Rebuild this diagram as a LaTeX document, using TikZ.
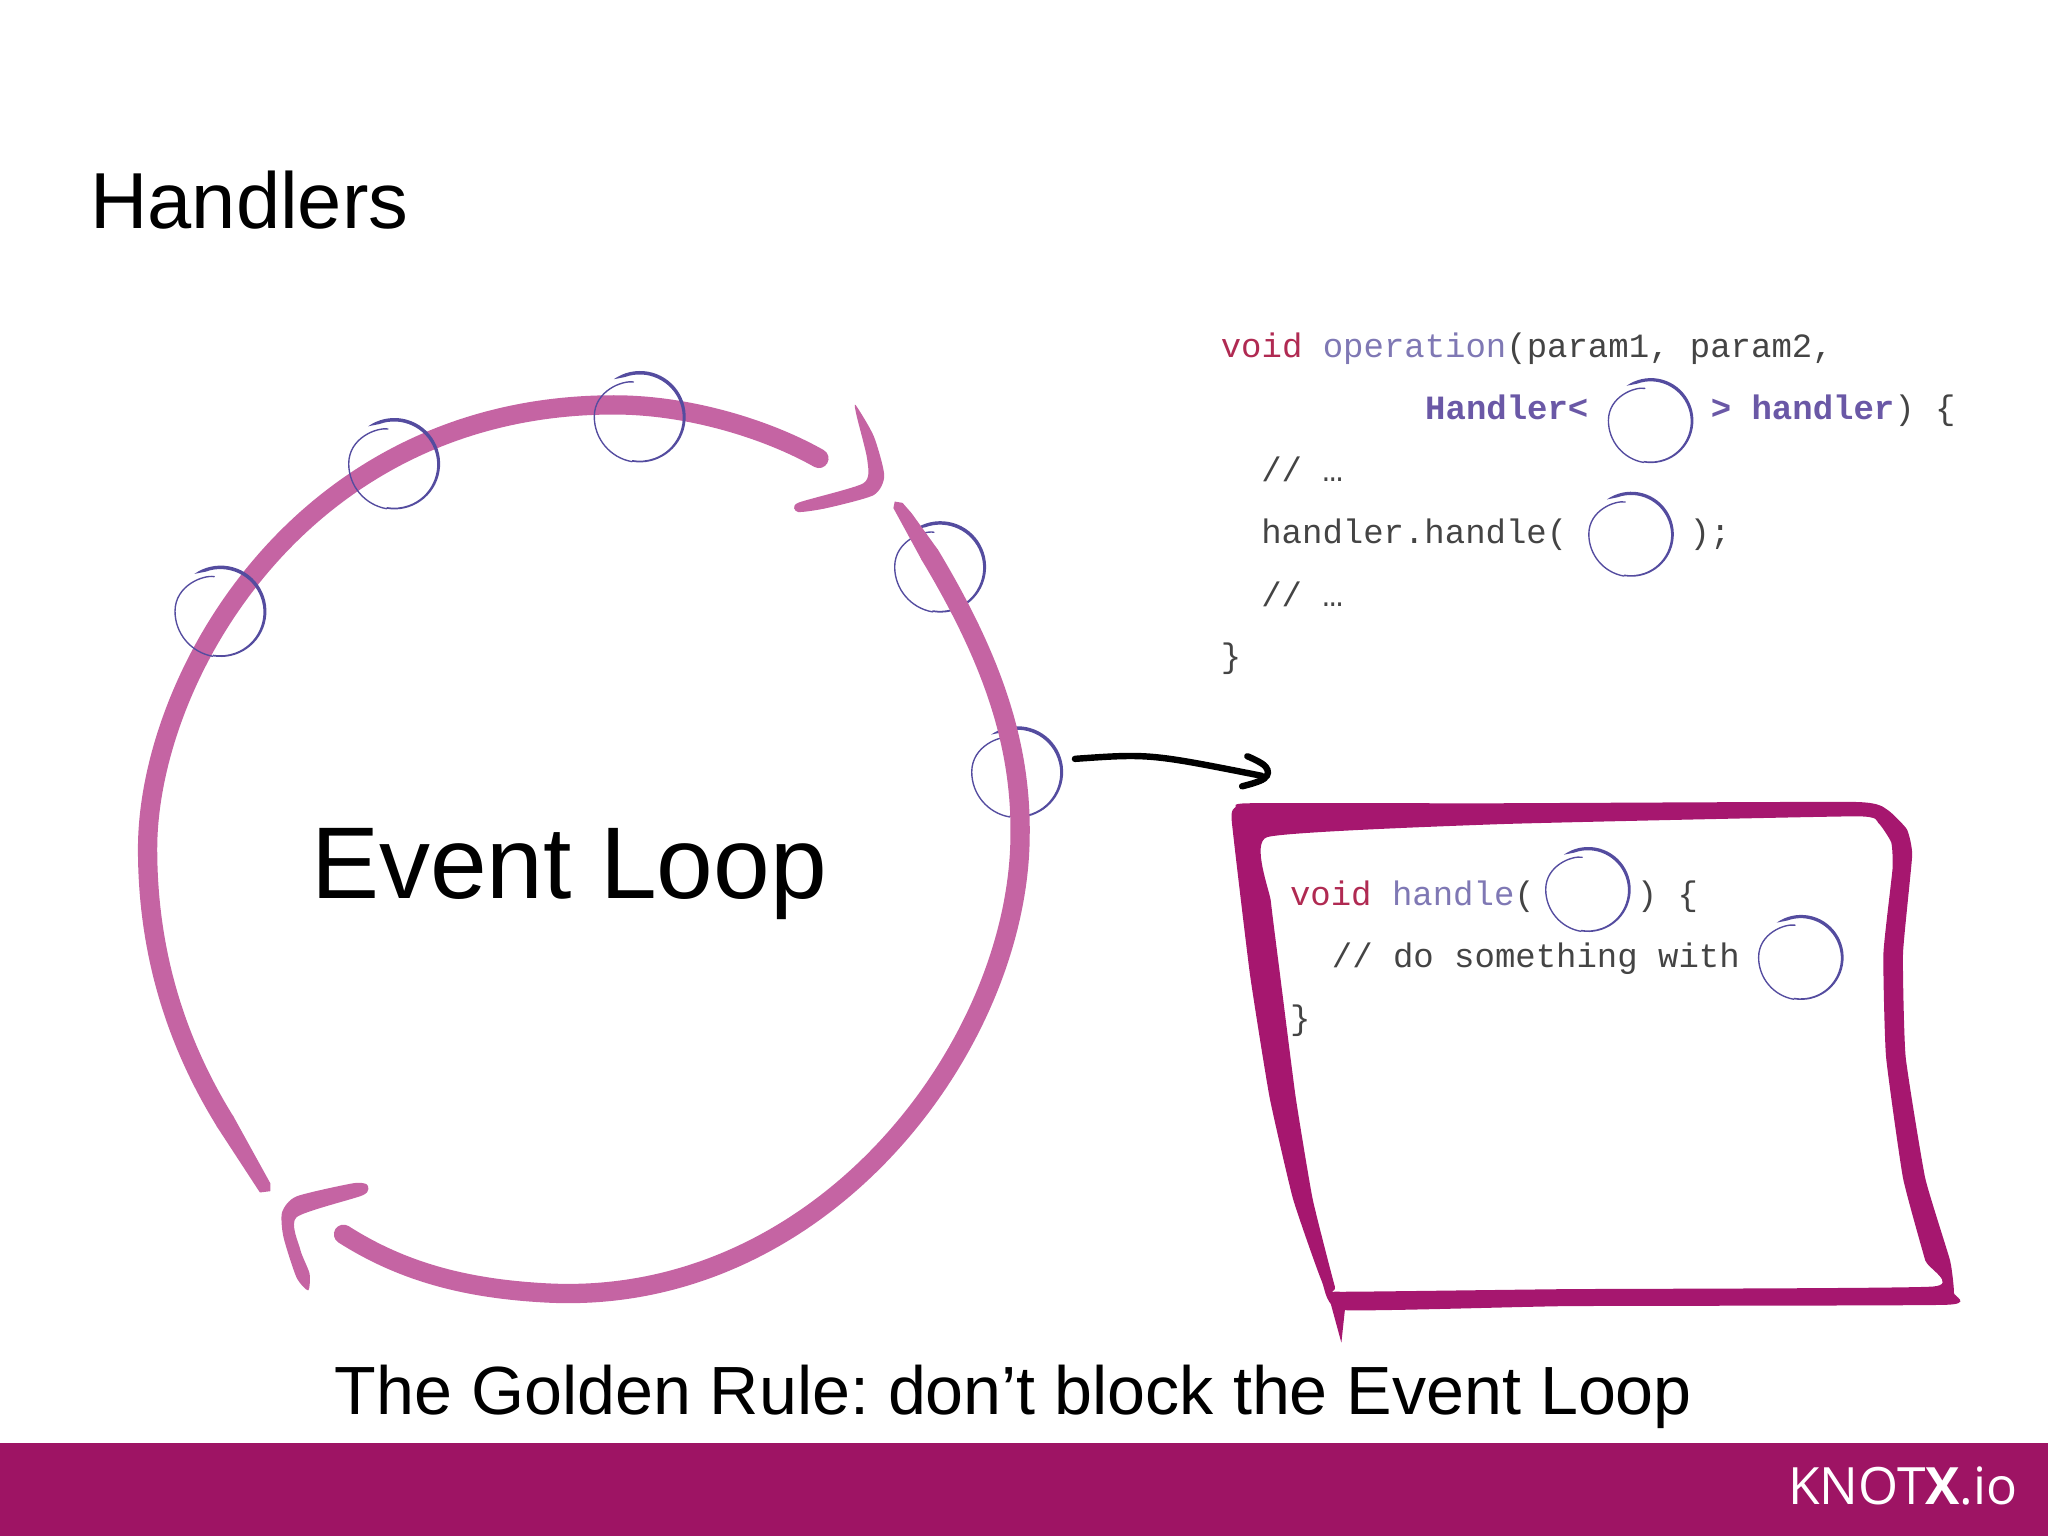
\documentclass[tikz,border=0pt]{standalone}
\usepackage{fontspec}
\setmainfont{Liberation Sans}
\setmonofont{Liberation Mono}
\newfontfamily\logofont{Open Sans}
\frenchspacing
\definecolor{ringpink}{HTML}{C564A3}
\definecolor{boxplum}{HTML}{A6176F}
\definecolor{barplum}{HTML}{9E1464}
\definecolor{penblue}{HTML}{544C9F}
\definecolor{keyred}{HTML}{B02A52}
\definecolor{namepurple}{HTML}{7F78B4}
\definecolor{typepurple}{HTML}{6A58A6}
\definecolor{codegrey}{HTML}{444444}
\tikzset{
	txt/.style={anchor=base west, inner sep=0pt},
	headtxt/.style={txt, font=\fontsize{17.3}{20}\selectfont},
	looptxt/.style={txt, font=\fontsize{22.2}{26}\selectfont},
	ruletxt/.style={txt, font=\fontsize{14.85}{18}\selectfont},
	codetxt/.style={txt, text=codegrey, font=\ttfamily\fontsize{7.4}{9}\selectfont},
	stroke/.style={draw=ringpink, line width=4.2pt, line cap=round},
	taper/.style={fill=ringpink, draw=none},
	handler/.pic={
		\draw[penblue, line width=0.3pt, line cap=round] (-5,-26.5) .. controls (-13,-28) and (-35,-20) .. (-35,0) arc[start angle=180, end angle=100, radius=35];
		\fill[penblue] (-6.1,34.5) arc[start angle=100, end angle=-125, radius=35] -- (-11.6,-30.3) arc[start angle=-110, end angle=100, radius=33] -- cycle;
	}
}
\newcommand{\spc}[1]{\hphantom{#1}}
\begin{document}
\begin{tikzpicture}[x=0.01cm, y=-0.01cm]
	\useasboundingbox (0,0) rectangle (1568,1176);
	
	\fill[barplum] (0,1105) rectangle (1568,1176);
	\node[anchor=base east, inner sep=0pt, text=white, font=\logofont\fontsize{11.2}{14}\selectfont] (logo) at (1545.5,1152) {KNOT\textbf{X}.io};
	
	\node[headtxt] (title) at (68.5,175) {Handlers};
	\node[looptxt] (loop) at (237.5,688) {Event Loop};
	\node[ruletxt] (rule) at (255.5,1083) {The Golden Rule: don’t block the Event Loop};
	
	%handlers under the ring
	\foreach \cx/\cy in {720/434, 779/591}
		\pic at (\cx,\cy) {handler};
	
	%ring, lower right part
	\draw[stroke] (712,425) .. controls (760,505) and (782,570) .. (781,640) .. controls (780,800) and (630,1000) .. (420,990) .. controls (360,987) and (310,975) .. (263,945);
	\fill[taper] (684,389) -- (685,384) -- (691,385) -- (698,393) -- (718.3,421.2) -- (705.7,428.8) -- cycle;
	%ring, upper left part
	\draw[stroke] (172,858) .. controls (130,790) and (113,720) .. (113,650) .. controls (113,520) and (230,310) .. (470,310) .. controls (530,310) and (590,330) .. (627,351);
	\fill[taper] (165.7,862) -- (199,913) -- (207,912) -- (207,906) -- (178.3,854) -- cycle;
	
	%arrow heads of the ring
	\fill[taper] plot[smooth cycle, tension=0.4] coordinates {(655,310) (669,334) (677,364) (669,379) (633,389) (611,392) (611,385) (661,370) (664,352) (656,319)};
	\fill[taper] plot[smooth cycle, tension=0.4] coordinates {(281,907) (270,906) (227,916) (216,928) (217,947) (227,978) (236,988) (237,975) (230,957) (227,932) (278,915)};
	
	%handlers on the ring
	\foreach \cx/\cy in {169/468, 302/355, 490/319}
		\pic at (\cx,\cy) {handler};
	
	%code above
	\node[codetxt] (opA) at (934,274) {\textcolor{keyred}{void} \textcolor{namepurple}{operation}(param1, param2,};
	\node[codetxt] (opB) at (1090.5,321) {\textcolor{typepurple}{\textbf{Handler<}}\spc{xxxxxx}\textcolor{typepurple}{\textbf{> handler}}) \{};
	\node[codetxt] (opC) at (965,369) {// …};
	\node[codetxt] (opD) at (965,416) {handler.handle(\spc{xxxxxx});};
	\node[codetxt] (opE) at (965,464) {// …};
	\node[codetxt] (opF) at (934,511) {\}};
	
	%callback box
	\fill[boxplum, even odd rule] plot[smooth cycle, tension=0.25] coordinates {(943,628) (946,618) (956,615) (1148,615) (1420,614) (1445,620) (1460,635) (1464,655) (1457,730) (1459,809) (1474,902) (1493,965) (1496,990) (1490,999) (1200,1000) (1028,1003) (1012,981) (990,918) (972,840) (957,746)}
		plot[smooth cycle, tension=0.25] coordinates {(970,641) (1148,631) (1420,625) (1438,630) (1448,645) (1449,665) (1442,730) (1444,809) (1457,902) (1474,965) (1480,985) (1200,987) (1026,989) (1022,985) (1005,918) (992,840) (980,746) (973,690)};
	\fill[boxplum] (1018,995) -- (1027,1028) -- (1030,1000) -- cycle;%tail of the box
	
	\node[codetxt] (cbA) at (987,693) {\textcolor{keyred}{void} \textcolor{namepurple}{handle}(\spc{xxxxx}) \{};
	\node[codetxt] (cbB) at (1019,741) {// do something with};
	\node[codetxt] (cbC) at (987,788) {\}};
	
	%handlers in the code
	\foreach \cx/\cy in {1264/322, 1249/409, 1216/681, 1379/733}
		\pic[scale=0.93] at (\cx,\cy) {handler};
	
	%black arrow
	\coordinate (from) at (823,581);
	\coordinate (to) at (966,594);
	\draw[line width=1.4pt, line cap=round] (from) .. controls (880,577) .. (to);
	\draw[line width=1.4pt, line cap=round] plot[smooth, tension=0.7] coordinates {(955,579) (969,587) (968,596) (951,602)};
\end{tikzpicture}
\end{document}
